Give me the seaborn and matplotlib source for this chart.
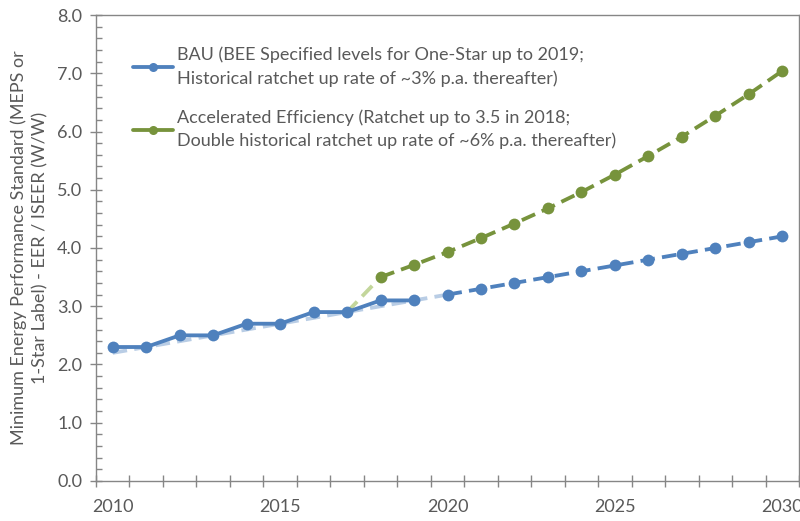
import numpy as np
import pandas as pd
import matplotlib
matplotlib.use("Agg")
import matplotlib.pyplot as plt
from matplotlib.lines import Line2D
from matplotlib.ticker import FixedLocator, MultipleLocator
import seaborn as sns

# ---- data ----
bau_hist_years = [2010, 2011, 2012, 2013, 2014, 2015, 2016, 2017, 2018, 2019]
bau_hist_vals = [2.3, 2.3, 2.5, 2.5, 2.7, 2.7, 2.9, 2.9, 3.1, 3.1]
bau_proj_years = [2020, 2021, 2022, 2023, 2024, 2025, 2026, 2027, 2028, 2029, 2030]
bau_proj_vals = [3.2, 3.3, 3.4, 3.5, 3.6, 3.7, 3.8, 3.9, 4.0, 4.1, 4.2]
trend_years = [2010, 2011, 2012, 2013, 2014, 2015, 2016, 2017, 2018, 2019, 2020]
trend_vals = [2.2, 2.3, 2.4, 2.5, 2.6, 2.7, 2.8, 2.9, 3.0, 3.1, 3.2]
acc_link_years = [2017, 2018]
acc_link_vals = [2.9, 3.5]
acc_years = [2018, 2019, 2020, 2021, 2022, 2023, 2024, 2025, 2026, 2027, 2028, 2029, 2030]
acc_vals = [3.5, 3.71, 3.93, 4.17, 4.42, 4.68, 4.96, 5.26, 5.58, 5.91, 6.27, 6.64, 7.04]
x_tick_labels = [2010, 2015, 2020, 2025, 2030]
y_ticks = [0, 1, 2, 3, 4, 5, 6, 7, 8]

labels = ["BAU (BEE Specified levels for One-Star up to 2019;\nHistorical ratchet up rate of ~3% p.a. thereafter)",
          "Accelerated Efficiency (Ratchet up to 3.5 in 2018;\nDouble historical ratchet up rate of ~6% p.a. thereafter)"]
ylabel = "Minimum Energy Performance Standard (MEPS or\n1-Star Label) - EER / ISEER (W/W)"

sns.set_theme(style="white")
plt.rcParams['font.family'] = ['Lato', 'DejaVu Sans']

BLUE = "#4F81BD"
GREEN = "#77933C"
LBLUE = "#B9CDE5"
LGREEN = "#C3D69B"
TXT = "#595959"
SPINE = "#868686"
FS = 13

fig = plt.figure(figsize=(8, 5.21), dpi=100)
ax = fig.add_axes([0.12, 0.0768, 0.87875, 0.8944])

dash = (0, (3.8, 1.9))
lw = 2.75
ms = 8.5

# light trend
sns.lineplot(x=trend_years, y=trend_vals, ax=ax, color=LBLUE, linewidth=lw)
ax.lines[-1].set_linestyle(dash)
# light green link
sns.lineplot(x=acc_link_years, y=acc_link_vals, ax=ax, color=LGREEN, linewidth=lw)
ax.lines[-1].set_linestyle(dash)
# BAU historical
sns.lineplot(x=bau_hist_years, y=bau_hist_vals, ax=ax, color=BLUE, linewidth=lw,
             marker="o", markersize=ms, markeredgewidth=0)
# BAU projection
sns.lineplot(x=bau_proj_years, y=bau_proj_vals, ax=ax, color=BLUE, linewidth=lw,
             marker="o", markersize=ms, markeredgewidth=0)
ax.lines[-1].set_linestyle(dash)
# Accelerated
sns.lineplot(x=acc_years, y=acc_vals, ax=ax, color=GREEN, linewidth=lw,
             marker="o", markersize=ms, markeredgewidth=0)
ax.lines[-1].set_linestyle(dash)

ax.set_xlim(2009.5, 2030.5)
ax.set_ylim(0, 8)

ax.xaxis.set_major_locator(FixedLocator(x_tick_labels))
ax.xaxis.set_minor_locator(FixedLocator(np.arange(2009.5, 2031, 1.0)))
ax.set_xticklabels([str(v) for v in x_tick_labels])
ax.yaxis.set_major_locator(FixedLocator(y_ticks))
ax.set_yticklabels([f"{v:.1f}" for v in y_ticks])
ax.yaxis.set_minor_locator(MultipleLocator(0.2))

ax.tick_params(axis="x", which="major", length=0, pad=13, labelsize=FS, labelcolor=TXT)
ax.tick_params(axis="x", which="minor", direction="inout", length=8, width=1, color=SPINE, bottom=True)
ax.tick_params(axis="y", which="major", direction="inout", length=8, width=1, color=SPINE, pad=6, labelsize=FS, labelcolor=TXT, left=True)
ax.tick_params(axis="y", which="minor", direction="in", length=4, width=1, color=SPINE, left=True)

for s in ax.spines.values():
    s.set_color(SPINE)
    s.set_linewidth(1)

ax.set_xlabel("")
ax.set_ylabel(ylabel, fontsize=FS, color=TXT, linespacing=1.35)
ax.yaxis.set_label_coords(-0.068, 0.5)

handles = [Line2D([], [], color=BLUE, lw=lw, marker="o", markersize=6.5, markeredgewidth=0),
           Line2D([], [], color=GREEN, lw=lw, marker="o", markersize=6.5, markeredgewidth=0)]
leg = ax.legend(handles, labels, loc="upper left", bbox_to_anchor=(0.043, 0.947), frameon=False,
                fontsize=FS, handlelength=2.2, handletextpad=0.2, labelspacing=1.25,
                borderaxespad=0)
for t in leg.get_texts():
    t.set_color(TXT)
    t.set_linespacing(1.5)

fig.savefig("out.png", dpi=100)
